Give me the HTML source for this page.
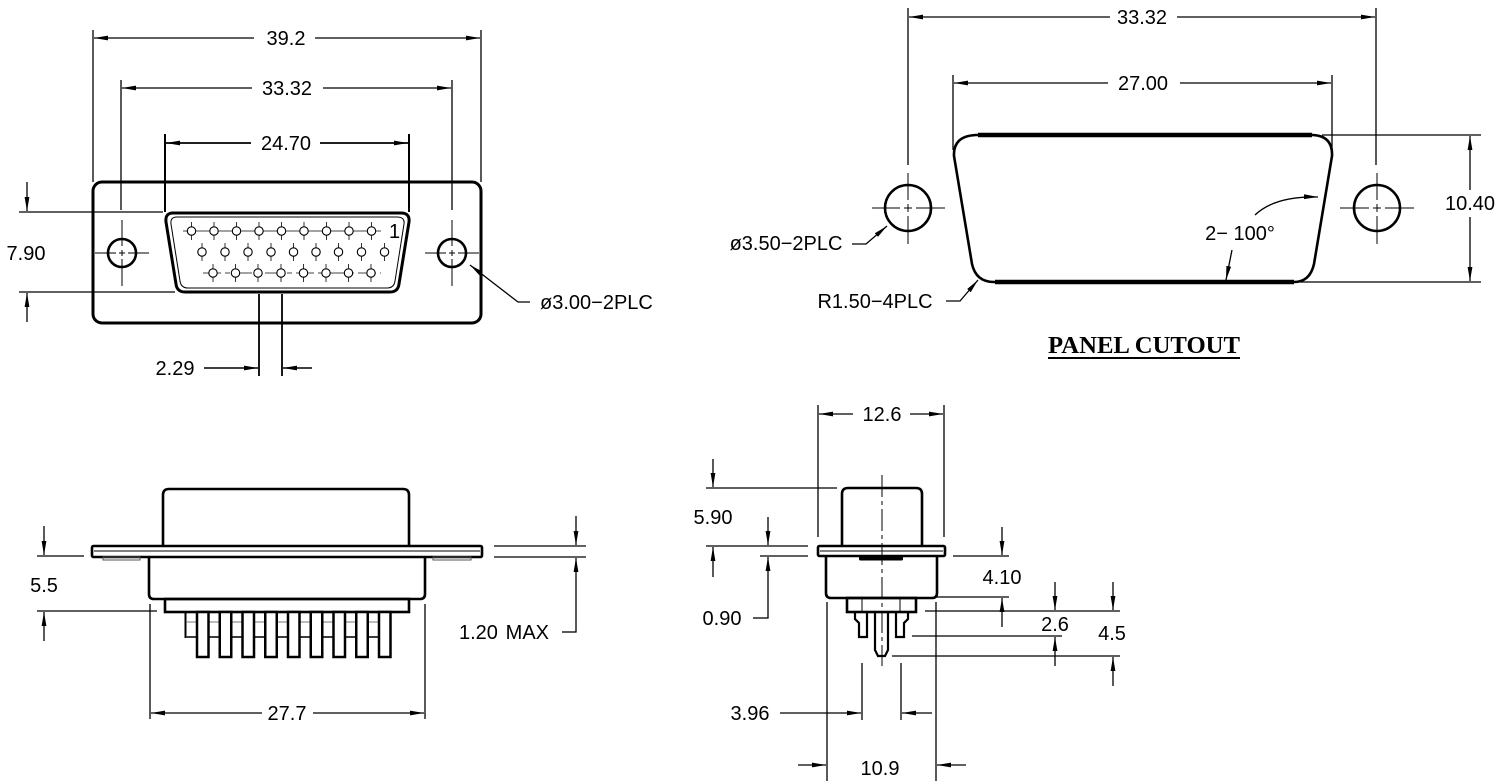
<!DOCTYPE html>
<html>
<head>
<meta charset="utf-8">
<style>
html,body{margin:0;padding:0;background:#fff;}
svg{display:block;}
text{font-family:"Liberation Sans",sans-serif;font-size:20px;fill:#000;text-anchor:middle;}
</style>
</head>
<body>
<svg width="1501" height="781" viewBox="0 0 1501 781" xmlns="http://www.w3.org/2000/svg">
<defs>
<marker id="a" viewBox="0 0 14 6" refX="14" refY="3" markerWidth="14" markerHeight="6" markerUnits="userSpaceOnUse" orient="auto"><path d="M0,0.6 L14,3 L0,5.4z" fill="#000" stroke="none"/></marker>
</defs>
<rect x="0" y="0" width="1501" height="781" fill="#fff"/>

<!-- ================= TOP LEFT ================= -->
<g stroke="#000" fill="none" stroke-width="1.3">
  <line x1="93" y1="30" x2="93" y2="182"/>
  <line x1="481" y1="30" x2="481" y2="182"/>
  <line x1="121" y1="80" x2="121" y2="210"/>
  <line x1="452" y1="80" x2="452" y2="210"/>
  <line x1="165" y1="134" x2="165" y2="212" stroke-width="2"/>
  <line x1="409" y1="134" x2="409" y2="212" stroke-width="2"/>
  <line x1="254" y1="38" x2="94" y2="38" marker-end="url(#a)"/>
  <line x1="315" y1="38" x2="480" y2="38" marker-end="url(#a)"/>
  <line x1="252" y1="88" x2="122" y2="88" marker-end="url(#a)"/>
  <line x1="323" y1="88" x2="451" y2="88" marker-end="url(#a)"/>
  <line x1="251" y1="143" x2="166" y2="143" stroke-width="1.8" marker-end="url(#a)"/>
  <line x1="320" y1="143" x2="408" y2="143" stroke-width="1.8" marker-end="url(#a)"/>

  <rect x="93" y="182" width="388" height="141" rx="9" stroke-width="3"/>
  <path d="M173,213 L401,213 Q410,213 409,222 L399,284 Q398,292 390,292 L185,292 Q177,292 176,284 L166,222 Q165,213 173,213 Z" stroke-width="3"/>
  <path d="M177,217 L397,217 Q405,217 404,224 L395,281 Q394,288 387,288 L188,288 Q181,288 180,281 L171,224 Q170,217 177,217 Z" stroke-width="1"/>
  <circle cx="122" cy="253" r="14" stroke-width="2.6"/>
  <circle cx="452" cy="253" r="14" stroke-width="2.6"/>
  <g stroke-width="1">
    <path d="M95,253 H116 M119,253 H125 M128,253 H149 M122,220 V246 M122,250 V256 M122,259 V286"/>
    <path d="M425,253 H446 M449,253 H455 M458,253 H479 M452,220 V246 M452,250 V256 M452,259 V286"/>
  </g>
  <g stroke="#444" stroke-width="1">
    <line x1="183" y1="231" x2="381" y2="231"/>
    <line x1="203" y1="273" x2="381" y2="273" stroke-dasharray="18 4 5 4"/>
  </g>
  <g stroke="#333" stroke-width="1">
    <path d="M191.5,222V240 M214,222V240 M236.5,222V240 M259,222V240 M281.5,222V240 M304,222V240 M326.5,222V240 M349,222V240 M371.5,222V240"/>
    <path d="M202,243V261 M225,243V261 M248,243V261 M271,243V261 M293.5,243V261 M316,243V261 M338.5,243V261 M361.5,243V261 M384.5,243V261"/>
    <path d="M213,264V282 M235.5,264V282 M258,264V282 M281,264V282 M303.5,264V282 M326,264V282 M348.5,264V282 M371,264V282"/>
  </g>
  <g stroke="#000" stroke-width="1.1" fill="#fff">
    <circle cx="191.5" cy="231" r="4.2"/><circle cx="214" cy="231" r="4.2"/><circle cx="236.5" cy="231" r="4.2"/><circle cx="259" cy="231" r="4.2"/><circle cx="281.5" cy="231" r="4.2"/><circle cx="304" cy="231" r="4.2"/><circle cx="326.5" cy="231" r="4.2"/><circle cx="349" cy="231" r="4.2"/><circle cx="371.5" cy="231" r="4.2"/>
    <circle cx="202" cy="252" r="4.2"/><circle cx="225" cy="252" r="4.2"/><circle cx="248" cy="252" r="4.2"/><circle cx="271" cy="252" r="4.2"/><circle cx="293.5" cy="252" r="4.2"/><circle cx="316" cy="252" r="4.2"/><circle cx="338.5" cy="252" r="4.2"/><circle cx="361.5" cy="252" r="4.2"/><circle cx="384.5" cy="252" r="4.2"/>
    <circle cx="213" cy="273" r="4.2"/><circle cx="235.5" cy="273" r="4.2"/><circle cx="258" cy="273" r="4.2"/><circle cx="281" cy="273" r="4.2"/><circle cx="303.5" cy="273" r="4.2"/><circle cx="326" cy="273" r="4.2"/><circle cx="348.5" cy="273" r="4.2"/><circle cx="371" cy="273" r="4.2"/>
  </g>

  <line x1="19" y1="212" x2="163" y2="212"/>
  <line x1="19" y1="292" x2="175" y2="292"/>
  <line x1="27" y1="182" x2="27" y2="211" marker-end="url(#a)"/>
  <line x1="27" y1="322" x2="27" y2="293" marker-end="url(#a)"/>
  <line x1="259" y1="294" x2="259" y2="376" stroke-width="1.8"/>
  <line x1="282" y1="294" x2="282" y2="376" stroke-width="1.8"/>
  <line x1="204" y1="368" x2="258" y2="368" stroke-width="1.6" marker-end="url(#a)"/>
  <line x1="312" y1="368" x2="283" y2="368" stroke-width="1.6" marker-end="url(#a)"/>
  <polyline points="530,302 518,302 470,265" marker-end="url(#a)"/>
</g>
<text x="286" y="45">39.2</text>
<text x="287" y="95">33.32</text>
<text x="286" y="150">24.70</text>
<text x="389" y="238" style="text-anchor:start;font-size:20px">1</text>
<text x="26" y="260">7.90</text>
<text x="175" y="375">2.29</text>
<text x="540" y="309" style="text-anchor:start">ø3.00−2PLC</text>

<!-- ================= TOP RIGHT ================= -->
<g stroke="#000" fill="none" stroke-width="1.3">
  <line x1="908" y1="8" x2="908" y2="165"/>
  <line x1="1376" y1="8" x2="1376" y2="165"/>
  <line x1="1110" y1="17" x2="909" y2="17" marker-end="url(#a)"/>
  <line x1="1177" y1="17" x2="1375" y2="17" marker-end="url(#a)"/>
  <line x1="953" y1="75" x2="953" y2="150"/>
  <line x1="1332" y1="75" x2="1332" y2="150"/>
  <line x1="1108" y1="83" x2="954" y2="83" marker-end="url(#a)"/>
  <line x1="1180" y1="83" x2="1331" y2="83" marker-end="url(#a)"/>

  <path d="M976,135 L1313,135 Q1333,136 1332,156 L1314,264 Q1310,282 1294,282 L994,282 Q976,282 972,264 L954,156 Q953,136 976,135 Z" stroke-width="2.6"/>
  <line x1="978" y1="135" x2="1312" y2="135" stroke-width="4.5"/>
  <line x1="995" y1="282" x2="1294" y2="282" stroke-width="4.5"/>

  <circle cx="908" cy="208" r="23" stroke-width="2.6"/>
  <circle cx="1377" cy="208" r="23" stroke-width="2.6"/>
  <g stroke-width="1">
    <path d="M872,208 H900 M904,208 H912 M916,208 H945 M908,173 V200 M908,204 V212 M908,216 V244"/>
    <path d="M1340,208 H1369 M1373,208 H1381 M1385,208 H1414 M1377,173 V200 M1377,204 V212 M1377,216 V244"/>
  </g>

  <polyline points="852,244 866,244 887,226" marker-end="url(#a)"/>
  <polyline points="946,301 960,301 978,280" marker-end="url(#a)"/>
  <path d="M1255,215 Q1275,196 1318,197" marker-end="url(#a)"/>
  <line x1="1232" y1="250" x2="1226" y2="280" marker-end="url(#a)"/>

  <line x1="1322" y1="135" x2="1481" y2="135"/>
  <line x1="1300" y1="282" x2="1481" y2="282"/>
  <line x1="1470" y1="190" x2="1470" y2="136" marker-end="url(#a)"/>
  <line x1="1470" y1="217" x2="1470" y2="281" marker-end="url(#a)"/>

  <line x1="1048" y1="358" x2="1240" y2="358" stroke-width="2"/>
</g>
<text x="1142" y="24">33.32</text>
<text x="1143" y="90">27.00</text>
<text x="786" y="250">ø3.50−2PLC</text>
<text x="875" y="308">R1.50−4PLC</text>
<text x="1240" y="240">2− 100°</text>
<text x="1470" y="210">10.40</text>
<text x="1144" y="353" textLength="192" lengthAdjust="spacingAndGlyphs" style="font-family:'Liberation Serif',serif;font-weight:bold;font-size:24px">PANEL CUTOUT</text>

<!-- ================= BOTTOM LEFT ================= -->
<g stroke="#000" fill="none" stroke-width="1.3">
  <path d="M163,546 L163,495 Q163,489 169,489 L403,489 Q409,489 409,495 L409,546" stroke-width="2.6"/>
  <rect x="92" y="546" width="390" height="11" rx="1.5" stroke-width="2.6"/>
  <line x1="94" y1="551" x2="480" y2="551" stroke-width="1"/>
  <rect x="103" y="557" width="37" height="3" stroke-width="1" stroke="#555"/>
  <rect x="433" y="557" width="38" height="3" stroke-width="1" stroke="#555"/>
  <path d="M149,557 L149,594 Q149,599 154,599 L420,599 Q425,599 425,594 L425,557" stroke-width="2.6"/>
  <rect x="165" y="599" width="244" height="13" stroke-width="2.6"/>
  <g stroke-width="2">
    <rect x="185.5" y="612" width="11.5" height="25"/><rect x="208.25" y="612" width="11.5" height="25"/><rect x="231" y="612" width="11.5" height="25"/><rect x="253.75" y="612" width="11.5" height="25"/><rect x="276.5" y="612" width="11.5" height="25"/><rect x="299.25" y="612" width="11.5" height="25"/><rect x="322" y="612" width="11.5" height="25"/><rect x="344.75" y="612" width="11.5" height="25"/><rect x="367.5" y="612" width="11.5" height="25"/>
  </g>
  <g stroke="#777" stroke-width="1">
    <line x1="186" y1="622" x2="390" y2="622"/>
    <line x1="186" y1="637" x2="390" y2="637"/>
  </g>
  <g stroke-width="2.5" fill="#fff">
    <rect x="197" y="612" width="11.5" height="45"/><rect x="219.75" y="612" width="11.5" height="45"/><rect x="242.5" y="612" width="11.5" height="45"/><rect x="265.25" y="612" width="11.5" height="45"/><rect x="288" y="612" width="11.5" height="45"/><rect x="310.75" y="612" width="11.5" height="45"/><rect x="333.5" y="612" width="11.5" height="45"/><rect x="356.25" y="612" width="11.5" height="45"/><rect x="379" y="612" width="11.5" height="45"/>
  </g>

  <line x1="37" y1="556" x2="84" y2="556"/>
  <line x1="37" y1="611" x2="157" y2="611"/>
  <line x1="44" y1="526" x2="44" y2="555" marker-end="url(#a)"/>
  <line x1="44" y1="641" x2="44" y2="612" marker-end="url(#a)"/>
  <line x1="494" y1="546" x2="586" y2="546"/>
  <line x1="494" y1="557" x2="586" y2="557"/>
  <line x1="576" y1="516" x2="576" y2="545" marker-end="url(#a)"/>
  <line x1="576" y1="632" x2="576" y2="558" marker-end="url(#a)"/>
  <line x1="562" y1="632" x2="576.6" y2="632"/>
  <line x1="150" y1="604" x2="150" y2="719"/>
  <line x1="425" y1="604" x2="425" y2="719"/>
  <line x1="262" y1="713" x2="151" y2="713" marker-end="url(#a)"/>
  <line x1="313" y1="713" x2="424" y2="713" marker-end="url(#a)"/>
</g>
<text x="44" y="592">5.5</text>
<text x="459" y="639" style="text-anchor:start">1.20</text>
<text x="549" y="639" style="text-anchor:end">MAX</text>
<text x="287" y="720">27.7</text>

<!-- ================= BOTTOM RIGHT ================= -->
<g stroke="#000" fill="none" stroke-width="1.3">
  <line x1="818" y1="405" x2="818" y2="537"/>
  <line x1="944" y1="405" x2="944" y2="537"/>
  <line x1="853" y1="414" x2="819" y2="414" marker-end="url(#a)"/>
  <line x1="910" y1="414" x2="943" y2="414" marker-end="url(#a)"/>

  <path d="M842,546 L842,494 Q842,488 848,488 L916,488 Q922,488 922,494 L922,546" stroke-width="2.6"/>
  <rect x="818" y="546" width="127" height="10" rx="1.5" stroke-width="2.6"/>
  <line x1="820" y1="551" x2="943" y2="551" stroke-width="1"/>
  <rect x="859" y="556" width="44" height="4.5" rx="1.5" fill="#000" stroke="none"/>
  <path d="M826,556 L826,593 Q826,598 831,598 L932,598 Q937,598 937,593 L937,556" stroke-width="2.6"/>
  <rect x="847" y="598" width="69" height="14" stroke-width="2.6"/>
  <line x1="862" y1="599" x2="862" y2="612" stroke-width="1"/>
  <line x1="900" y1="599" x2="900" y2="612" stroke-width="1"/>
  <path d="M855,612 L855,619 L859,623 L859,637 L867,637 L867,612" stroke-width="2.2"/>
  <path d="M908,612 L908,619 L904,623 L904,637 L896,637 L896,612" stroke-width="2.2"/>
  <path d="M875,612 L875,650 L878,656 L885,656 L888,650 L888,612" stroke-width="2.2"/>
  <line x1="882" y1="475" x2="882" y2="666" stroke-width="1" stroke-dasharray="22 4 4 4"/>

  <line x1="706" y1="488" x2="837" y2="488"/>
  <line x1="706" y1="546" x2="808" y2="546"/>
  <line x1="713" y1="459" x2="713" y2="487" marker-end="url(#a)"/>
  <line x1="713" y1="577" x2="713" y2="547" marker-end="url(#a)"/>
  <line x1="760" y1="556" x2="808" y2="556"/>
  <line x1="768" y1="517" x2="768" y2="545" marker-end="url(#a)"/>
  <line x1="768" y1="618" x2="768" y2="557" marker-end="url(#a)"/>
  <line x1="753" y1="618" x2="768.6" y2="618"/>
  <line x1="953" y1="556" x2="1009" y2="556"/>
  <line x1="937" y1="597" x2="1009" y2="597"/>
  <line x1="1002" y1="527" x2="1002" y2="555" marker-end="url(#a)"/>
  <line x1="1002" y1="627" x2="1002" y2="598" marker-end="url(#a)"/>
  <line x1="925" y1="611" x2="1120" y2="611"/>
  <line x1="912" y1="636" x2="1062" y2="636"/>
  <line x1="892" y1="656" x2="1120" y2="656"/>
  <line x1="1055" y1="582" x2="1055" y2="610" marker-end="url(#a)"/>
  <line x1="1055" y1="666" x2="1055" y2="637" marker-end="url(#a)"/>
  <line x1="1113" y1="582" x2="1113" y2="610" marker-end="url(#a)"/>
  <line x1="1113" y1="686" x2="1113" y2="657" marker-end="url(#a)"/>
  <line x1="862" y1="663" x2="862" y2="720"/>
  <line x1="901" y1="663" x2="901" y2="720"/>
  <line x1="780" y1="713" x2="861" y2="713" marker-end="url(#a)"/>
  <line x1="932" y1="713" x2="902" y2="713" marker-end="url(#a)"/>
  <line x1="827" y1="602" x2="827" y2="781"/>
  <line x1="936" y1="602" x2="936" y2="781"/>
  <line x1="798" y1="765" x2="826" y2="765" marker-end="url(#a)"/>
  <line x1="966" y1="765" x2="937" y2="765" marker-end="url(#a)"/>
</g>
<text x="882" y="421">12.6</text>
<text x="713" y="524">5.90</text>
<text x="722" y="625">0.90</text>
<text x="1002" y="584">4.10</text>
<text x="1055" y="631">2.6</text>
<text x="1112" y="640">4.5</text>
<text x="750" y="720">3.96</text>
<text x="880" y="775">10.9</text>
</svg>
</body>
</html>
